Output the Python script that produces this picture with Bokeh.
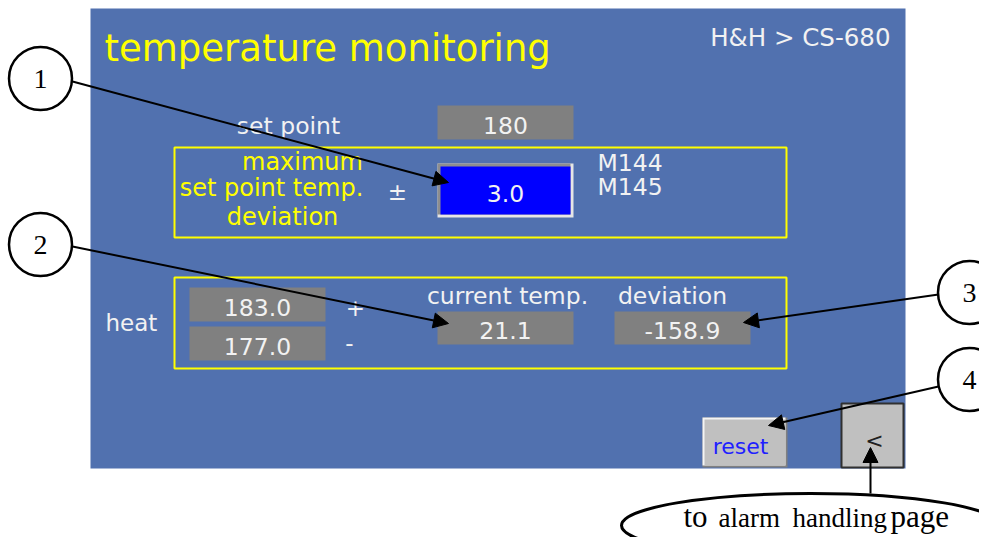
from bokeh.plotting import figure
from bokeh.models import Range1d, Arrow, NormalHead, ColumnDataSource
from bokeh.core.properties import value
from bokeh.embed import file_html
from bokeh.resources import INLINE

title = "temperature monitoring"
breadcrumb = "H&H > CS-680"
set_point_label = "set point"
set_point = 180
deviation_label_lines = ["maximum", "set point temp.", "deviation"]
max_deviation = 3.0
memory_tags = ["M144", "M145"]
heat_label = "heat"
heat_upper = 183.0
heat_lower = 177.0
current_label = "current temp."
current_temp = 21.1
deviation_label = "deviation"
deviation_value = -158.9
reset_label = "reset"
back_label = "<"
callout_numbers = ["1", "2", "3", "4"]
note_words = ["to", "alarm", "handling", "page"]

# ---- styling ----
PANEL = "#5171AF"
YELLOW = "#FFFF00"
WHITE = "#F2F2F2"
GRAY = "#808080"
BTN = "#C0C0C0"
UI_FONT = "DejaVu Sans"
SERIF = "Liberation Serif"
SHIFT = 0.42  # svg text sits lower than the requested baseline

p = figure(width=979, height=537, x_range=Range1d(0, 979), y_range=Range1d(537, 0),
           output_backend="svg", toolbar_location=None, min_border=0,
           x_axis_type=None, y_axis_type=None)
p.grid.visible = False
p.outline_line_color = None
p.background_fill_color = "white"
p.border_fill_color = "white"


def box(l, r, t, b, fill=None, line=None, lw=0):
    p.quad(left=[l], right=[r], top=[t], bottom=[b],
           fill_color=fill, fill_alpha=1 if fill else 0,
           line_color=line, line_width=lw, line_alpha=1 if line else 0)


def txt(x, y, s, size, color, font=UI_FONT, align="left"):
    p.text(x=[x], y=[y - SHIFT * size], text=[s], text_font=value(font),
           text_font_size=f"{size}px", text_color=color, text_align=align,
           text_baseline="alphabetic")


# panel
box(90, 905, 8, 468, fill=PANEL)

# header
txt(104, 64, title, 37, YELLOW)
txt(890, 47, breadcrumb, 24.5, WHITE, align="right")

# set point
txt(288, 135, set_point_label, 23.5, WHITE, align="center")
box(437, 573, 105, 139, fill=GRAY)
txt(505, 135, f"{set_point}", 23.5, WHITE, align="center")

# deviation frame
box(174, 786, 147, 237, line=YELLOW, lw=2)
for s, cx, by in zip(deviation_label_lines, [302, 271, 282], [172, 198, 227]):
    txt(cx, by, s, 24, YELLOW, align="center")
txt(397, 201, "\u00b1", 23, WHITE, align="center")
box(437, 573, 163, 217, fill="#E6E6E6")
box(437, 570, 163, 214, fill="#8E8E8E")
box(440, 570, 166, 214, fill="#0000FF")
txt(505, 203, f"{max_deviation:.1f}", 23.5, WHITE, align="center")
for s, by in zip(memory_tags, [172, 196]):
    txt(597, by, s, 23.5, WHITE)

# heat frame
box(174, 786, 277, 368, line=YELLOW, lw=2)
txt(105, 332, heat_label, 23, WHITE)
box(189, 325, 287, 321, fill=GRAY)
box(189, 325, 326, 360, fill=GRAY)
txt(257, 317, f"{heat_upper:.1f}", 23.5, WHITE, align="center")
txt(257, 356, f"{heat_lower:.1f}", 23.5, WHITE, align="center")
txt(355, 317, "+", 23, WHITE, align="center")
txt(349, 352, "-", 23, WHITE, align="center")

txt(507, 305, current_label, 23.5, WHITE, align="center")
box(437, 573, 311, 344, fill=GRAY)
txt(505, 340, f"{current_temp:.1f}", 23.5, WHITE, align="center")
txt(672, 305, deviation_label, 23.5, WHITE, align="center")
box(614, 750, 311, 344, fill=GRAY)
txt(682, 340, f"{deviation_value:.1f}", 23.5, WHITE, align="center")

# buttons
box(702, 787, 417, 467, fill="#808080")
box(702, 785, 417, 465, fill="#F4F4F4")
box(704, 785, 419, 465, fill=BTN)
txt(740, 455, reset_label, 22, "#2020FF", align="center")
box(841, 903, 403, 467, fill=BTN, line="#303030", lw=2)
txt(874, 449, back_label, 22, "#202020", align="center")

# callout circles
cx = [40, 40, 969, 969]
cy = [78, 244, 292, 379]
p.circle(x=cx, y=cy, radius=31.5, fill_color="white", line_color="black", line_width=2.5)
p.text(x=cx, y=[c + 12 - SHIFT * 28 for c in cy], text=callout_numbers,
       text_font=value(SERIF), text_font_size="28px", text_color="black",
       text_align="center", text_baseline="alphabetic")

# note ellipse
p.ellipse(x=[810], y=[525], width=[378], height=[64], fill_color="white",
          line_color="black", line_width=3)
for s, x, sz in zip(note_words, [683, 718, 792, 890], [31, 27, 27, 31]):
    txt(x, 529, s, sz, "black", font=SERIF)

# arrows
arrows = ColumnDataSource(dict(
    xs=[72, 72, 938, 938, 870],
    ys=[81, 246, 294, 386, 493],
    xe=[448, 448, 743, 768, 870],
    ye=[182, 323, 322, 425, 447],
))
p.add_layout(Arrow(end=NormalHead(size=15, fill_color="black", line_color="black"),
                   x_start="xs", y_start="ys", x_end="xe", y_end="ye",
                   source=arrows, line_color="black", line_width=2))

open("out.html", "w").write(file_html(p, INLINE))
